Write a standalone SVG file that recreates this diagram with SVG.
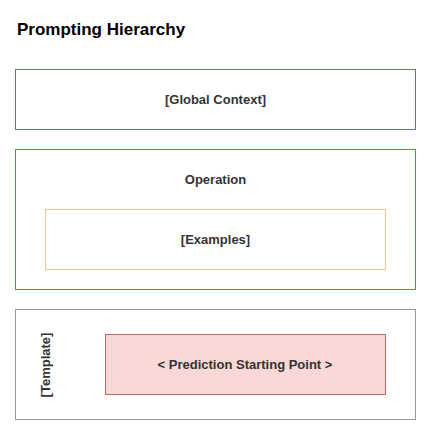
<svg xmlns="http://www.w3.org/2000/svg" width="431" height="436" viewBox="0 0 431 436">
  <style>
    .box { fill: #ffffff; stroke-width: 1; }
    .lbl { font-family: "Liberation Sans", Arial, sans-serif; font-size: 13px; font-weight: bold; fill: #333333; text-anchor: middle; }
    .title { font-family: "Liberation Sans", Arial, sans-serif; font-size: 17px; font-weight: bold; fill: #000000; }
  </style>
  <rect width="431" height="436" fill="#ffffff"/>
  <text class="title" x="17" y="35">Prompting Hierarchy</text>

  <g id="global-context">
    <rect class="box" x="15.5" y="69.5" width="400" height="60" stroke="#6666e0"/>
    <text class="lbl" x="215.5" y="104">[Global Context]</text>
  </g>

  <g id="operation">
    <rect class="box" x="15.5" y="149.5" width="400" height="140" stroke="#44a444"/>
    <text class="lbl" x="215.5" y="184">Operation</text>
  </g>

  <g id="examples">
    <rect class="box" x="45.5" y="209.5" width="340" height="60" stroke="#f7c396"/>
    <text class="lbl" x="215.5" y="244">[Examples]</text>
  </g>

  <g id="template">
    <rect class="box" x="15.5" y="309.5" width="400" height="110" stroke="#999999"/>
    <text class="lbl" transform="translate(50 365) rotate(-90)">[Template]</text>
  </g>

  <g id="prediction-start">
    <rect x="105.5" y="334.5" width="280" height="60" fill="#f9d8d6" stroke="#c06a68"/>
    <text class="lbl" x="245" y="369">&lt; Prediction Starting Point &gt;</text>
  </g>

  <g id="connectors"/>
</svg>
